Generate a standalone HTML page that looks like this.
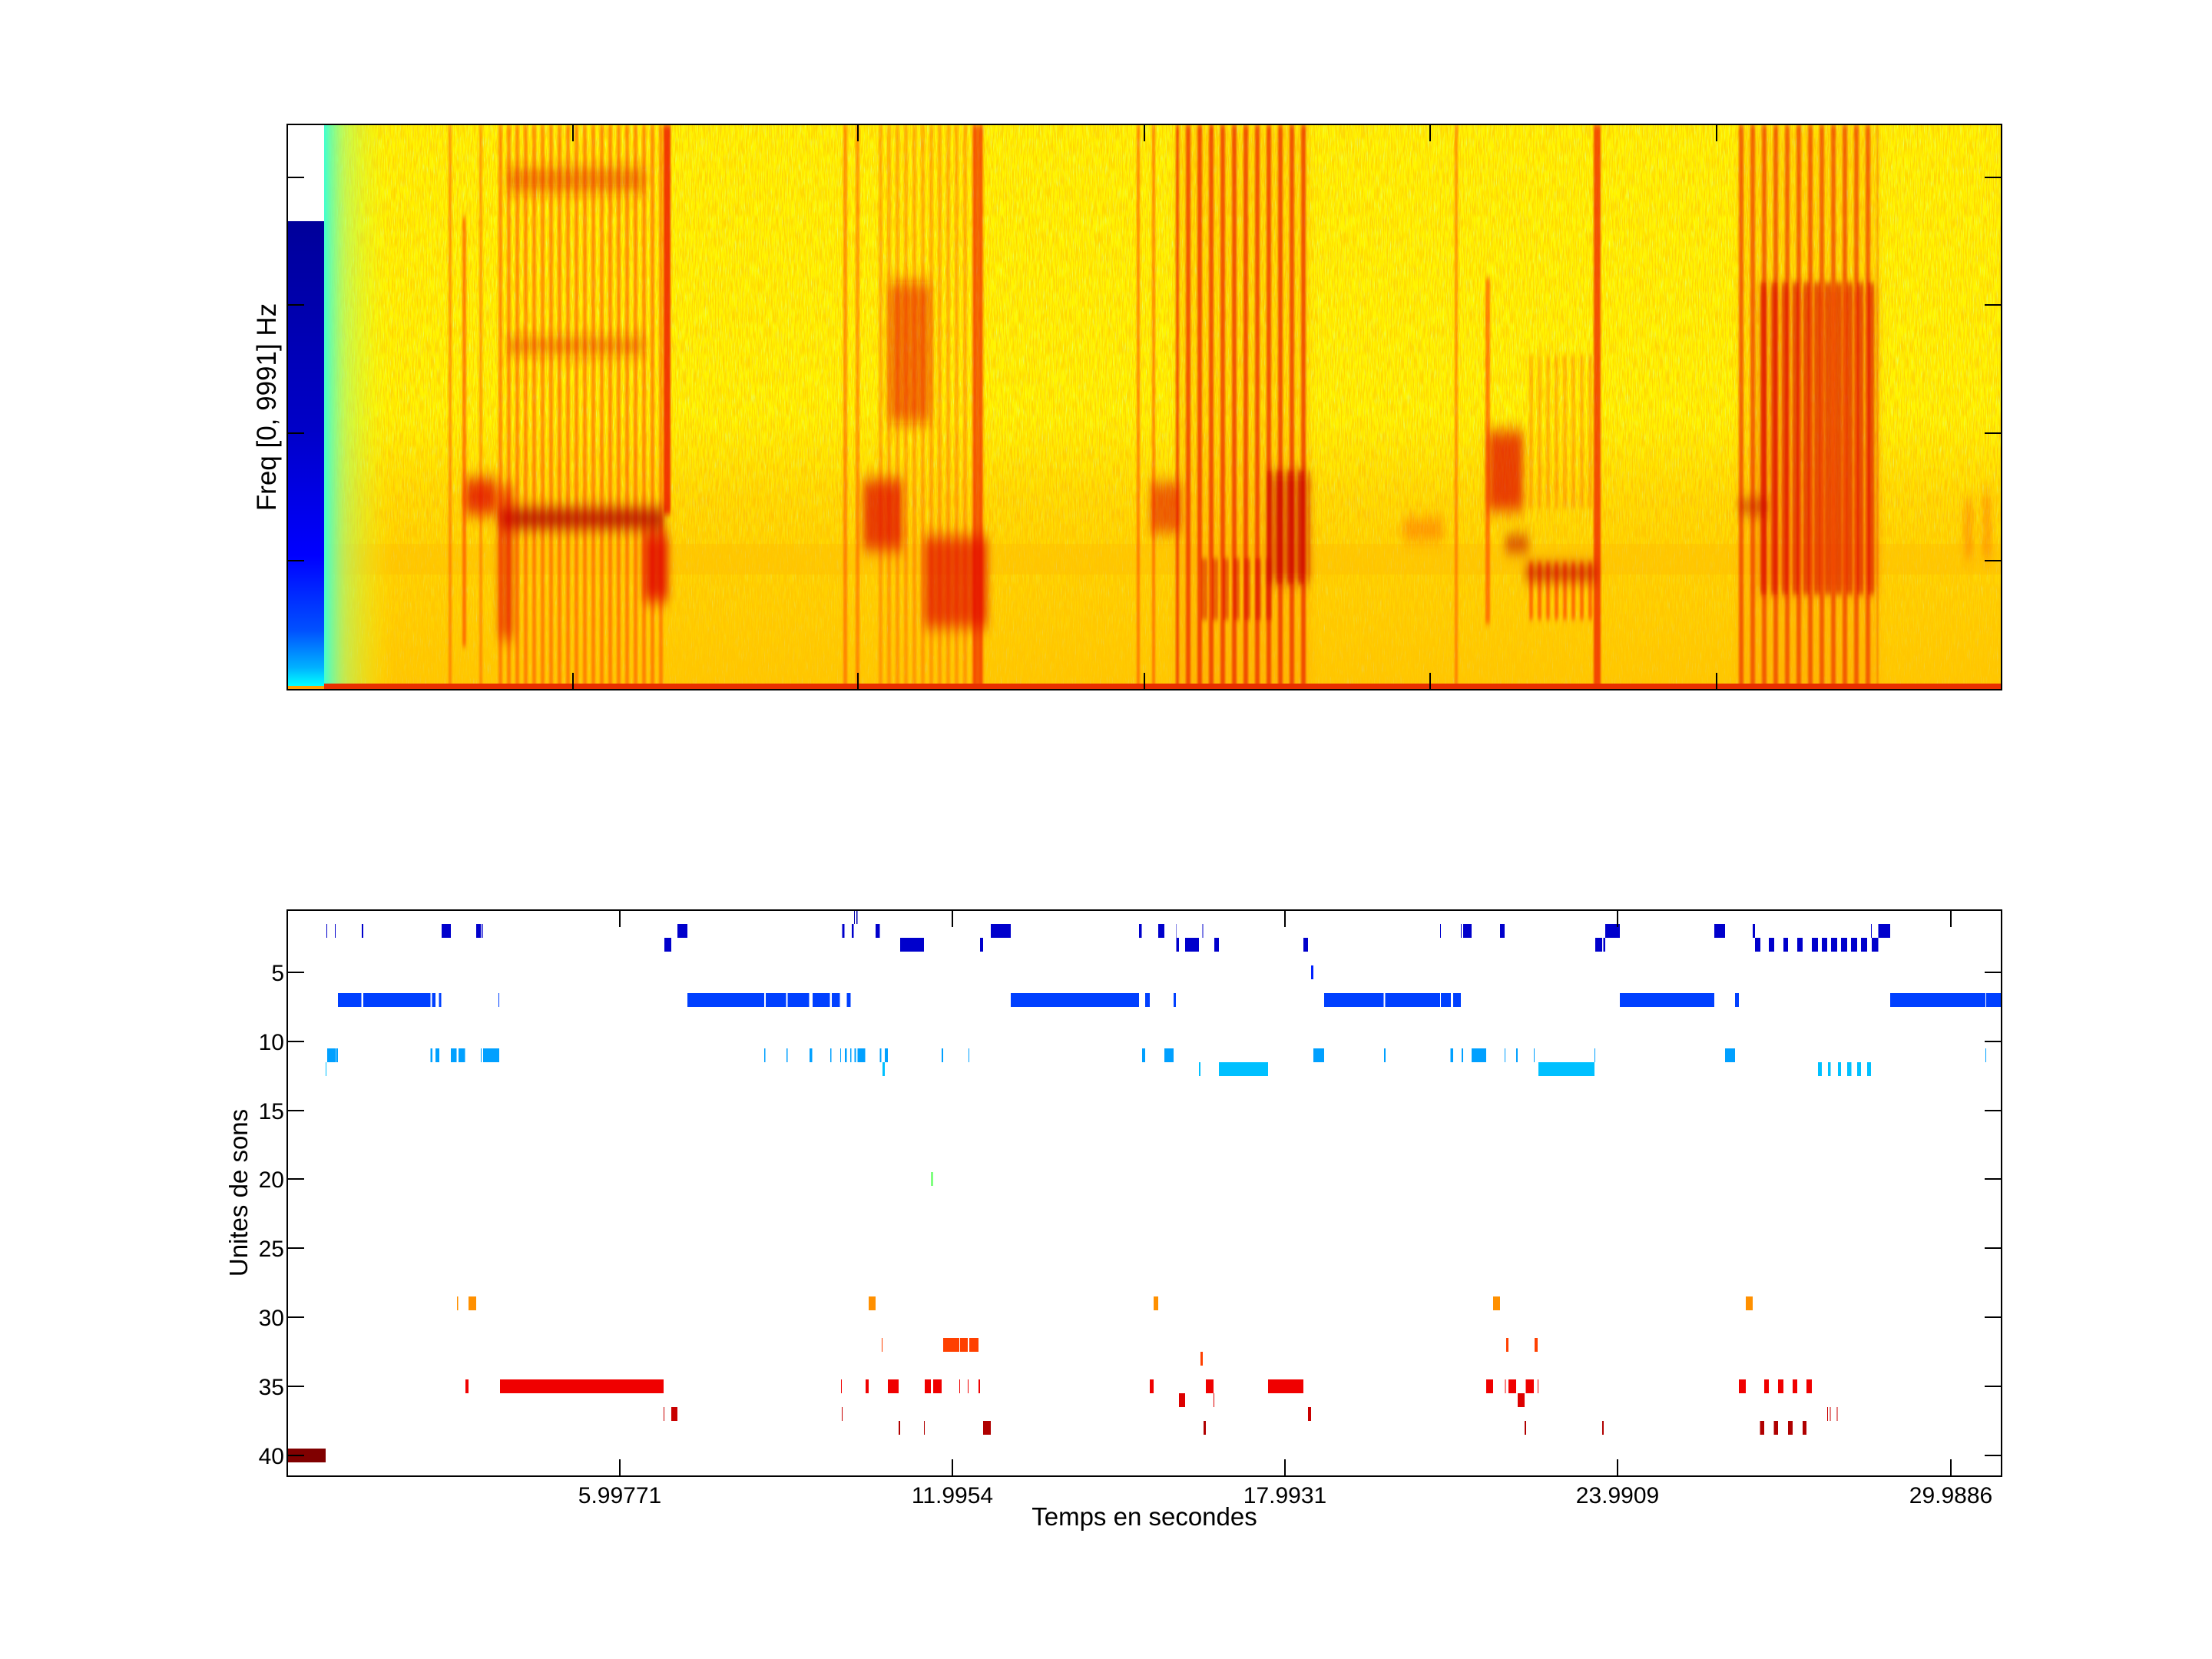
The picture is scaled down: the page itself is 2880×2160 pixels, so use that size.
<!DOCTYPE html>
<html><head><meta charset="utf-8"><style>
html,body{margin:0;padding:0;background:#fff;}
svg{display:block;}
text{font-family:"Liberation Sans",Arial,sans-serif;fill:#000;}
</style></head><body>
<svg width="2880" height="2160" viewBox="0 0 2880 2160" xmlns="http://www.w3.org/2000/svg">
<defs>
<filter id="nz" x="0" y="0" width="100%" height="100%">
<feTurbulence type="fractalNoise" baseFrequency="0.8 0.05" numOctaves="2" seed="4"/>
<feColorMatrix type="matrix" values="0 0 0 0 1  0 0 0 0 0.6  0 0 0 0 0  4.5 0 0 0 -1.9"/>
</filter>
<filter id="nz2" x="0" y="0" width="100%" height="100%">
<feTurbulence type="fractalNoise" baseFrequency="0.9 0.06" numOctaves="2" seed="9"/>
<feColorMatrix type="matrix" values="0 0 0 0 0.7  0 0 0 0 1  0 0 0 0 0.4  3.5 0 0 0 -1.9"/>
</filter>
<filter id="bl" x="-10%" y="-10%" width="120%" height="120%"><feGaussianBlur stdDeviation="5 10"/></filter>
<filter id="bl2" x="-5%" y="-5%" width="110%" height="110%"><feGaussianBlur stdDeviation="1 4"/></filter>
<pattern id="st" patternUnits="userSpaceOnUse" width="11" height="10"><rect x="0" y="0" width="5" height="10" fill="#ff4a00"/></pattern>
<pattern id="st2" patternUnits="userSpaceOnUse" width="15" height="10"><rect x="0" y="0" width="6" height="10" fill="#e81000"/></pattern>
<pattern id="st3" patternUnits="userSpaceOnUse" width="14" height="10"><rect x="0" y="0" width="8" height="10" fill="#d00000"/></pattern>
<linearGradient id="blue" x1="0" y1="0" x2="0" y2="1">
<stop offset="0" stop-color="#00009a"/><stop offset="0.45" stop-color="#0000c8"/>
<stop offset="0.72" stop-color="#0000ff"/><stop offset="0.88" stop-color="#0050ff"/>
<stop offset="0.96" stop-color="#00b0ff"/><stop offset="1" stop-color="#00ffff"/>
</linearGradient>
<linearGradient id="cy" x1="0" y1="0" x2="1" y2="0">
<stop offset="0" stop-color="#40ffd0" stop-opacity="1"/><stop offset="0.3" stop-color="#a0ff80" stop-opacity="0.6"/><stop offset="1" stop-color="#ffff00" stop-opacity="0"/>
</linearGradient>
<linearGradient id="low" x1="0" y1="0" x2="0" y2="1">
<stop offset="0" stop-color="#ff9a00" stop-opacity="0"/><stop offset="0.3" stop-color="#ff9a00" stop-opacity="0.25"/><stop offset="1" stop-color="#ff9000" stop-opacity="0.45"/>
</linearGradient>
</defs>

<svg x="374" y="162" width="2232" height="736" viewBox="0 0 2232 736">
<rect x="0" y="0" width="2232" height="736" fill="#fff500"/>
<rect x="0" y="0" width="2232" height="736" filter="url(#nz2)" opacity="0.6"/>
<rect x="0" y="0" width="2232" height="736" filter="url(#nz)" opacity="0.7"/>
<rect x="0" y="380" width="2232" height="356" fill="url(#low)"/>
<rect x="0" y="546" width="2232" height="40" fill="#ff8000" opacity="0.15"/>
<rect x="0" y="520" width="2232" height="216" filter="url(#nz)" opacity="0.8"/>
<rect x="48" y="0" width="90" height="736" fill="url(#cy)"/>
<!-- stripes (light blur) -->
<g filter="url(#bl2)">
<rect x="210" y="0" width="4" height="736" fill="#ff5000" opacity="0.5"/>
<rect x="228" y="120" width="5" height="560" fill="#ff3000" opacity="0.55"/>
<rect x="250" y="0" width="4" height="736" fill="#ff5000" opacity="0.45"/>
<rect x="275" y="0" width="218" height="736" fill="url(#st)" opacity="0.55"/>
<rect x="724" y="0" width="5" height="736" fill="#ff4000" opacity="0.5"/>
<rect x="740" y="0" width="5" height="736" fill="#ff4000" opacity="0.45"/>
<rect x="770" y="0" width="142" height="736" fill="url(#st)" opacity="0.35"/>
<rect x="1106" y="0" width="4" height="736" fill="#ff4000" opacity="0.55"/>
<rect x="1126" y="0" width="4" height="736" fill="#ff4000" opacity="0.55"/>
<rect x="1157" y="0" width="174" height="736" fill="url(#st2)" opacity="0.7"/>
<rect x="1520" y="0" width="4" height="736" fill="#ff4000" opacity="0.5"/>
<rect x="1560" y="200" width="6" height="450" fill="#ff3000" opacity="0.55"/>
<rect x="1612" y="570" width="93" height="75" fill="url(#st)" opacity="0.7"/>
<rect x="1615" y="300" width="90" height="200" fill="url(#st)" opacity="0.3"/>
<rect x="1890" y="0" width="181" height="736" fill="url(#st2)" opacity="0.6"/>
<rect x="1912" y="206" width="159" height="406" fill="url(#st3)" opacity="0.55"/>
<rect x="1276" y="451" width="55" height="147" fill="url(#st3)" opacity="0.6"/>
<rect x="1187" y="565" width="96" height="80" fill="url(#st3)" opacity="0.5"/>
<rect x="490" y="0" width="9" height="508" fill="#ee1000" opacity="0.8"/>
<rect x="893" y="0" width="12" height="736" fill="#ee1000" opacity="0.6"/>
<rect x="1701" y="0" width="9" height="736" fill="#ee1000" opacity="0.7"/>
</g>
<!-- blobs (blurred) -->
<g filter="url(#bl)">
<rect x="1157" y="0" width="174" height="736" fill="#ff7000" opacity="0.18"/>
<rect x="1890" y="0" width="181" height="736" fill="#ff7000" opacity="0.18"/>
<rect x="232" y="461" width="40" height="47" fill="#e00000" opacity="0.75"/>
<rect x="286" y="58" width="180" height="28" fill="#e02000" opacity="0.5"/>
<rect x="286" y="279" width="180" height="18" fill="#e02000" opacity="0.5"/>
<rect x="275" y="501" width="215" height="24" fill="#b00000" opacity="0.9"/>
<rect x="275" y="470" width="20" height="200" fill="#e00000" opacity="0.55"/>
<rect x="464" y="531" width="32" height="90" fill="#e00000" opacity="0.8"/>
<rect x="750" y="462" width="51" height="92" fill="#e00000" opacity="0.7"/>
<rect x="783" y="205" width="55" height="184" fill="#e81000" opacity="0.55"/>
<rect x="829" y="536" width="83" height="119" fill="#e00000" opacity="0.65"/>
<rect x="1276" y="451" width="55" height="147" fill="#c00000" opacity="0.45"/>
<rect x="1124" y="466" width="41" height="66" fill="#e00000" opacity="0.55"/>
<rect x="1453" y="513" width="52" height="28" fill="#ff5000" opacity="0.45"/>
<rect x="1564" y="399" width="45" height="104" fill="#e00000" opacity="0.7"/>
<rect x="1586" y="537" width="30" height="18" fill="#c00000" opacity="0.75"/>
<rect x="1612" y="575" width="93" height="18" fill="#c00000" opacity="0.8"/>
<rect x="1912" y="206" width="159" height="406" fill="#e00000" opacity="0.2"/>
<rect x="1890" y="489" width="37" height="17" fill="#c00000" opacity="0.75"/>
<rect x="2186" y="489" width="6" height="76" fill="#ff4000" opacity="0.6"/>
<rect x="2210" y="480" width="6" height="85" fill="#ff4000" opacity="0.6"/>
</g>
<rect x="0" y="728" width="2232" height="8" fill="#e83000"/>
<rect x="0" y="0" width="48" height="126" fill="#ffffff"/>
<rect x="0" y="126" width="48" height="605" fill="url(#blue)"/>
<rect x="0" y="731" width="48" height="5" fill="#ffa000"/>
</svg>
<rect x="374" y="162" width="2232" height="736" fill="none" stroke="#000" stroke-width="2"/>
<g stroke="#000" stroke-width="2">
<path d="M746 162v22M1117 162v22M1490 162v22M1862 162v22M2235 162v22"/>
<path d="M746 898v-22M1117 898v-22M1490 898v-22M1862 898v-22M2235 898v-22"/>
<path d="M374 231h22M374 397h22M374 564h22M374 730h22"/>
<path d="M2606 231h-22M2606 397h-22M2606 564h-22M2606 730h-22"/>
</g>
<text transform="translate(359,530) rotate(-90)" text-anchor="middle" font-size="35">Freq [0, 9991] Hz</text>

<g shape-rendering="crispEdges">
<g transform="translate(374,0) scale(0.49744,1)">
<g fill="#0000aa"><rect x="1484" y="1185" width="2" height="18"/><rect x="1490" y="1185" width="3" height="18"/></g>
<g fill="#0000cc">
<rect x="103" y="1203" width="2" height="18"/><rect x="125" y="1203" width="2" height="18"/><rect x="195" y="1203" width="4" height="18"/>
<rect x="404" y="1203" width="24" height="18"/><rect x="495" y="1203" width="12" height="18"/><rect x="509" y="1203" width="3" height="18"/>
<rect x="1021" y="1203" width="26" height="18"/><rect x="1452" y="1203" width="6" height="18"/><rect x="1478" y="1203" width="5" height="18"/><rect x="1540" y="1203" width="11" height="18"/>
<rect x="987" y="1221" width="18" height="18"/>
</g>
<g fill="#0040ff">
<rect x="133" y="1293" width="61" height="18"/><rect x="199" y="1293" width="176" height="18"/><rect x="379" y="1293" width="9" height="18"/><rect x="397" y="1293" width="6" height="18"/><rect x="553" y="1293" width="2" height="18"/>
<rect x="1047" y="1293" width="201" height="18"/><rect x="1252" y="1293" width="54" height="18"/><rect x="1310" y="1293" width="56" height="18"/><rect x="1375" y="1293" width="45" height="18"/><rect x="1425" y="1293" width="21" height="18"/><rect x="1465" y="1293" width="10" height="18"/>
</g>
<g fill="#00a0ff">
<rect x="105" y="1365" width="22" height="18"/><rect x="128" y="1365" width="5" height="18"/><rect x="375" y="1365" width="5" height="18"/><rect x="388" y="1365" width="10" height="18"/><rect x="428" y="1365" width="15" height="18"/><rect x="448" y="1365" width="17" height="18"/><rect x="507" y="1365" width="2" height="18"/><rect x="513" y="1365" width="42" height="18"/>
<rect x="1248" y="1365" width="3" height="18"/><rect x="1307" y="1365" width="3" height="18"/><rect x="1367" y="1365" width="7" height="18"/><rect x="1421" y="1365" width="3" height="18"/><rect x="1447" y="1365" width="2" height="18"/><rect x="1459" y="1365" width="5" height="18"/><rect x="1474" y="1365" width="3" height="18"/><rect x="1485" y="1365" width="4" height="18"/><rect x="1493" y="1365" width="20" height="18"/><rect x="1551" y="1365" width="3" height="18"/><rect x="1564" y="1365" width="4" height="18"/>
</g>
<g fill="#00c0ff"><rect x="101" y="1383" width="2" height="18"/><rect x="1558" y="1383" width="5" height="18"/></g>
<g fill="#ff9000"><rect x="444" y="1688" width="3" height="18"/><rect x="474" y="1688" width="21" height="18"/><rect x="1522" y="1688" width="18" height="18"/></g>
<g fill="#ff4000"><rect x="1556" y="1742" width="2" height="18"/></g>
<g fill="#f00000"><rect x="466" y="1796" width="8" height="18"/><rect x="557" y="1796" width="428" height="18"/><rect x="1449" y="1796" width="2" height="18"/><rect x="1514" y="1796" width="8" height="18"/></g>
<g fill="#c80000"><rect x="985" y="1832" width="2" height="18"/><rect x="1005" y="1832" width="16" height="18"/><rect x="1451" y="1832" width="2" height="18"/></g>
<rect x="0" y="1886" width="101" height="18" fill="#800000"/>
</g>
<g transform="translate(1140,0) scale(0.4783,1)">
<g fill="#0000cc">
<rect x="0" y="1203" width="12" height="18"/><rect x="314" y="1203" width="54" height="18"/><rect x="717" y="1203" width="7" height="18"/><rect x="769" y="1203" width="17" height="18"/><rect x="817" y="1203" width="2" height="18"/><rect x="890" y="1203" width="2" height="18"/><rect x="1537" y="1203" width="2" height="18"/>
<rect x="67" y="1221" width="65" height="18"/><rect x="284" y="1221" width="9" height="18"/><rect x="819" y="1221" width="7" height="18"/><rect x="843" y="1221" width="37" height="18"/><rect x="922" y="1221" width="13" height="18"/><rect x="1165" y="1221" width="12" height="18"/>
</g>
<rect x="1185" y="1257" width="7" height="18" fill="#0020ff"/>
<g fill="#0040ff">
<rect x="368" y="1293" width="349" height="18"/><rect x="734" y="1293" width="12" height="18"/><rect x="811" y="1293" width="6" height="18"/><rect x="1221" y="1293" width="162" height="18"/><rect x="1387" y="1293" width="149" height="18"/><rect x="1539" y="1293" width="27" height="18"/>
</g>
<g fill="#00a0ff">
<rect x="12" y="1365" width="4" height="18"/><rect x="25" y="1365" width="8" height="18"/><rect x="180" y="1365" width="4" height="18"/><rect x="253" y="1365" width="2" height="18"/><rect x="725" y="1365" width="9" height="18"/><rect x="786" y="1365" width="25" height="18"/><rect x="1192" y="1365" width="29" height="18"/><rect x="1384" y="1365" width="4" height="18"/><rect x="1565" y="1365" width="3" height="18"/>
</g>
<g fill="#00c0ff"><rect x="19" y="1383" width="6" height="18"/><rect x="880" y="1383" width="4" height="18"/><rect x="935" y="1383" width="133" height="18"/></g>
<rect x="151" y="1526" width="6" height="18" fill="#80ff80"/>
<rect x="757" y="1688" width="12" height="18" fill="#ff9000"/>
<g fill="#ff4000"><rect x="17" y="1742" width="2" height="18"/><rect x="184" y="1742" width="44" height="18"/><rect x="230" y="1742" width="21" height="18"/><rect x="255" y="1742" width="25" height="18"/><rect x="884" y="1760" width="7" height="18"/></g>
<g fill="#f00000">
<rect x="33" y="1796" width="30" height="18"/><rect x="134" y="1796" width="17" height="18"/><rect x="157" y="1796" width="23" height="18"/><rect x="228" y="1796" width="2" height="18"/><rect x="251" y="1796" width="2" height="18"/><rect x="280" y="1796" width="4" height="18"/><rect x="746" y="1796" width="11" height="18"/><rect x="899" y="1796" width="21" height="18"/><rect x="1068" y="1796" width="97" height="18"/>
</g>
<g fill="#dd0000"><rect x="826" y="1814" width="17" height="18"/><rect x="920" y="1814" width="2" height="18"/></g>
<rect x="1177" y="1832" width="8" height="18" fill="#c80000"/>
<g fill="#b00000"><rect x="63" y="1850" width="4" height="18"/><rect x="132" y="1850" width="2" height="18"/><rect x="293" y="1850" width="21" height="18"/><rect x="893" y="1850" width="6" height="18"/></g>
</g>
<g transform="translate(1870,0) scale(0.47192,1)">
<g fill="#0000cc">
<rect x="11" y="1203" width="2" height="18"/><rect x="68" y="1203" width="2" height="18"/><rect x="74" y="1203" width="23" height="18"/><rect x="176" y="1203" width="13" height="18"/><rect x="466" y="1203" width="40" height="18"/><rect x="767" y="1203" width="30" height="18"/><rect x="873" y="1203" width="6" height="18"/><rect x="1199" y="1203" width="2" height="18"/><rect x="1220" y="1203" width="32" height="18"/>
<rect x="439" y="1221" width="19" height="18"/><rect x="461" y="1221" width="5" height="18"/><rect x="879" y="1221" width="15" height="18"/><rect x="917" y="1221" width="15" height="18"/><rect x="958" y="1221" width="12" height="18"/><rect x="996" y="1221" width="15" height="18"/><rect x="1036" y="1221" width="17" height="18"/><rect x="1064" y="1221" width="15" height="18"/><rect x="1089" y="1221" width="17" height="18"/><rect x="1117" y="1221" width="17" height="18"/><rect x="1144" y="1221" width="17" height="18"/><rect x="1172" y="1221" width="17" height="18"/><rect x="1201" y="1221" width="19" height="18"/>
</g>
<g fill="#0040ff">
<rect x="0" y="1293" width="11" height="18"/><rect x="13" y="1293" width="27" height="18"/><rect x="47" y="1293" width="21" height="18"/><rect x="506" y="1293" width="261" height="18"/><rect x="824" y="1293" width="11" height="18"/><rect x="1252" y="1293" width="263" height="18"/><rect x="1517" y="1293" width="43" height="18"/>
</g>
<g fill="#00a0ff">
<rect x="40" y="1365" width="7" height="18"/><rect x="70" y="1365" width="4" height="18"/><rect x="97" y="1365" width="41" height="18"/><rect x="189" y="1365" width="2" height="18"/><rect x="220" y="1365" width="5" height="18"/><rect x="269" y="1365" width="2" height="18"/><rect x="436" y="1365" width="3" height="18"/><rect x="797" y="1365" width="27" height="18"/><rect x="1515" y="1365" width="2" height="18"/>
</g>
<g fill="#00c0ff">
<rect x="282" y="1383" width="154" height="18"/><rect x="1053" y="1383" width="11" height="18"/><rect x="1081" y="1383" width="7" height="18"/><rect x="1108" y="1383" width="9" height="18"/><rect x="1134" y="1383" width="11" height="18"/><rect x="1161" y="1383" width="11" height="18"/><rect x="1189" y="1383" width="10" height="18"/>
</g>
<g fill="#ff9000"><rect x="157" y="1688" width="19" height="18"/><rect x="854" y="1688" width="19" height="18"/></g>
<g fill="#ff4000"><rect x="193" y="1742" width="6" height="18"/><rect x="271" y="1742" width="9" height="18"/></g>
<g fill="#f00000">
<rect x="138" y="1796" width="19" height="18"/><rect x="190" y="1796" width="2" height="18"/><rect x="199" y="1796" width="21" height="18"/><rect x="247" y="1796" width="22" height="18"/><rect x="280" y="1796" width="2" height="18"/><rect x="835" y="1796" width="19" height="18"/><rect x="905" y="1796" width="12" height="18"/><rect x="943" y="1796" width="15" height="18"/><rect x="983" y="1796" width="13" height="18"/><rect x="1021" y="1796" width="15" height="18"/>
</g>
<rect x="225" y="1814" width="19" height="18" fill="#dd0000"/>
<g fill="#c80000"><rect x="1079" y="1832" width="2" height="18"/><rect x="1086" y="1832" width="2" height="18"/><rect x="1105" y="1832" width="2" height="18"/></g>
<g fill="#b00000">
<rect x="244" y="1850" width="4" height="18"/><rect x="458" y="1850" width="4" height="18"/><rect x="893" y="1850" width="12" height="18"/><rect x="931" y="1850" width="12" height="18"/><rect x="970" y="1850" width="13" height="18"/><rect x="1011" y="1850" width="10" height="18"/>
</g>
</g>
</g>
<rect x="374" y="1185" width="2232" height="737" fill="none" stroke="#000" stroke-width="2"/>
<g stroke="#000" stroke-width="2">
<path d="M807 1185v22M1240 1185v22M1673 1185v22M2106 1185v22M2540 1185v22"/>
<path d="M807 1922v-22M1240 1922v-22M1673 1922v-22M2106 1922v-22M2540 1922v-22"/>
<path d="M374 1266h22M374 1356h22M374 1446h22M374 1535h22M374 1625h22M374 1715h22M374 1805h22M374 1895h22"/>
<path d="M2606 1266h-22M2606 1356h-22M2606 1446h-22M2606 1535h-22M2606 1625h-22M2606 1715h-22M2606 1805h-22M2606 1895h-22"/>
</g>
<g font-size="30" text-anchor="end">
<text x="370" y="1277">5</text><text x="370" y="1367">10</text><text x="370" y="1457">15</text><text x="370" y="1546">20</text>
<text x="370" y="1636">25</text><text x="370" y="1726">30</text><text x="370" y="1816">35</text><text x="370" y="1906">40</text>
</g>
<g font-size="30" text-anchor="middle">
<text x="807" y="1957">5.99771</text><text x="1240" y="1957">11.9954</text><text x="1673" y="1957">17.9931</text>
<text x="2106" y="1957">23.9909</text><text x="2540" y="1957">29.9886</text>
</g>
<text x="1490" y="1986" font-size="33" text-anchor="middle">Temps en secondes</text>
<text transform="translate(322,1553) rotate(-90)" text-anchor="middle" font-size="33">Unites de sons</text>
</svg>
</body></html>
